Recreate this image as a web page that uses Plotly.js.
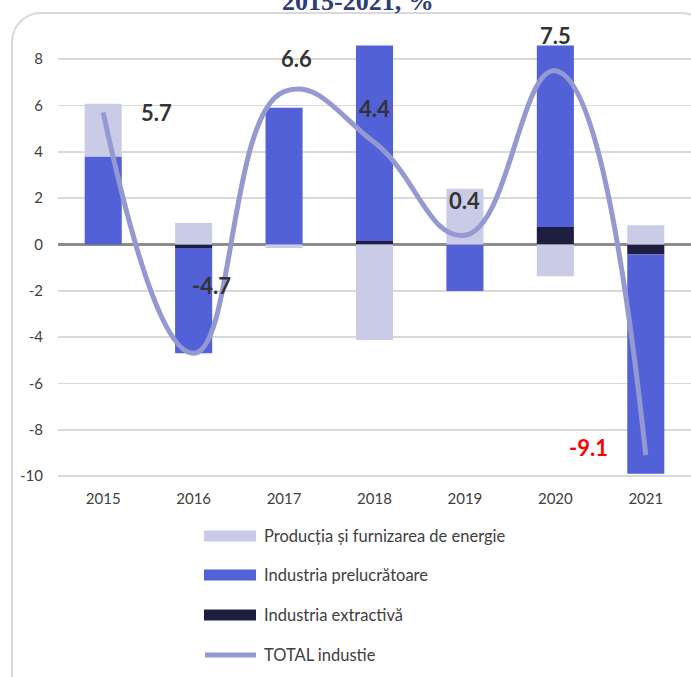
<!DOCTYPE html>
<html>
<head>
<meta charset="utf-8">
<script src="https://cdn.plot.ly/plotly-3.0.1.min.js"></script>
<style>
  html, body { margin: 0; padding: 0; width: 691px; height: 677px; overflow: hidden; background: #ffffff; }
  #frame { position: absolute; left: 11px; top: 12px; width: 700px; height: 700px; border: 2px solid #D9D9D9; border-radius: 30px; box-sizing: border-box; }
  #chart { position: absolute; left: 0; top: 0; width: 691px; height: 677px; }
</style>
</head>
<body>
<div id="frame"></div>
<div id="chart"></div>
<script>
// ---- data ----
const years = ['2015', '2016', '2017', '2018', '2019', '2020', '2021'];
const energie = [2.28, 0.93, -0.15, -4.12, 2.41, -1.37, 0.83];
const prelucratoare = [3.80, -4.55, 5.90, 8.44, -2.01, 7.83, -9.47];
const extractiva = [0.0, -0.15, 0.0, 0.15, 0.0, 0.76, -0.43];
const total = [5.7, -4.7, 6.6, 4.4, 0.4, 7.5, -9.1];
const seriesNames = ['Producția și furnizarea de energie', 'Industria prelucrătoare', 'Industria extractivă', 'TOTAL industie'];
const titleText = '2015-2021, %';
const yTicks = [-10, -8, -6, -4, -2, 0, 2, 4, 6, 8];

// ---- styling ----
const colEnergie = '#C9CBE7';
const colPrel = '#5261D8';
const colExtr = '#1E1F40';
const colTotal = '#9499D2';
const font = 'Lato, "Open Sans", sans-serif';

// layout geometry (pixels)
const W = 691, H = 677, mL = 58, mR = 0, mT = 40, mB = 197;
const pw = W - mL - mR, ph = H - mT - mB;
const px2x = p => (p - mL) / pw;
const py2y = p => (H - mB - p) / ph;

const traces = [
  { type: 'bar', x: years, y: extractiva, name: seriesNames[2], marker: { color: colExtr }, showlegend: false },
  { type: 'bar', x: years, y: prelucratoare, name: seriesNames[1], marker: { color: colPrel }, showlegend: false },
  { type: 'bar', x: years, y: energie, name: seriesNames[0], marker: { color: colEnergie }, showlegend: false },
  { type: 'scatter', mode: 'lines', x: years, y: total, name: seriesNames[3],
    line: { color: colTotal, width: 5, shape: 'spline', smoothing: 1.3 }, showlegend: false }
];

// data labels on the total line (offsets in pixels); x given as category index
const labelShift = [[53, 0], [18, 68], [12, 33], [0, 34], [0, 35], [0, 35], [-57, 8]];
const annotations = total.map((v, i) => ({
  x: i, y: v, xref: 'x', yref: 'y',
  text: v.toFixed(1), showarrow: false,
  xshift: labelShift[i][0], yshift: labelShift[i][1],
  font: { family: font, size: 22, color: v === Math.min(...total) ? '#FF0000' : '#333333', weight: 'bold' }
}));

// partially cut title at the very top
annotations.push({
  xref: 'paper', yref: 'paper', x: px2x(358), y: 1, yanchor: 'bottom', yshift: 22,
  text: '<b>' + titleText + '</b>', showarrow: false,
  font: { family: '"Liberation Serif", "DejaVu Serif", serif', size: 26, color: '#2E3C7C' }
});

// custom legend
const legendRows = [536, 575, 615, 655];
const shapes = [];
const legendColors = [colEnergie, colPrel, colExtr];
for (let i = 0; i < 3; i++) {
  shapes.push({ type: 'rect', xref: 'paper', yref: 'paper',
    x0: px2x(204), x1: px2x(256), y0: py2y(legendRows[i] - 5.5), y1: py2y(legendRows[i] + 5.5),
    fillcolor: legendColors[i], line: { width: 0 } });
}
shapes.push({ type: 'line', xref: 'paper', yref: 'paper',
  x0: px2x(205), x1: px2x(256), y0: py2y(legendRows[3]), y1: py2y(legendRows[3]),
  line: { color: colTotal, width: 5 } });
for (let i = 0; i < 4; i++) {
  annotations.push({ xref: 'paper', yref: 'paper', x: px2x(262), y: py2y(legendRows[i]),
    xanchor: 'left', yanchor: 'middle', text: seriesNames[i], showarrow: false,
    font: { family: font, size: 16.5, color: '#404040' } });
}

const layout = {
  width: W, height: H,
  margin: { l: mL, r: mR, t: mT, b: mB, pad: 0 },
  paper_bgcolor: 'rgba(0,0,0,0)', plot_bgcolor: 'rgba(0,0,0,0)',
  barmode: 'relative', bargap: 0.59,
  showlegend: false,
  xaxis: { type: 'category', categoryarray: years, range: [-0.5, years.length - 0.5],
    showgrid: false, zeroline: false, showline: false, ticks: '',
    tickfont: { family: font, size: 15, color: '#404040' }, ticklabelstandoff: 8 },
  yaxis: { range: [-10.17, 8.83], tickvals: yTicks, ticktext: yTicks.map(String),
    showgrid: true, gridcolor: '#D9D9D9', gridwidth: 1.5,
    zeroline: true, zerolinecolor: '#8C8C8C', zerolinewidth: 2.5, showline: false, ticks: '',
    tickfont: { family: font, size: 15, color: '#404040' }, ticklabelstandoff: 14 },
  annotations: annotations,
  shapes: shapes
};

Plotly.newPlot('chart', traces, layout, { staticPlot: true, displayModeBar: false });
</script>
</body>
</html>
